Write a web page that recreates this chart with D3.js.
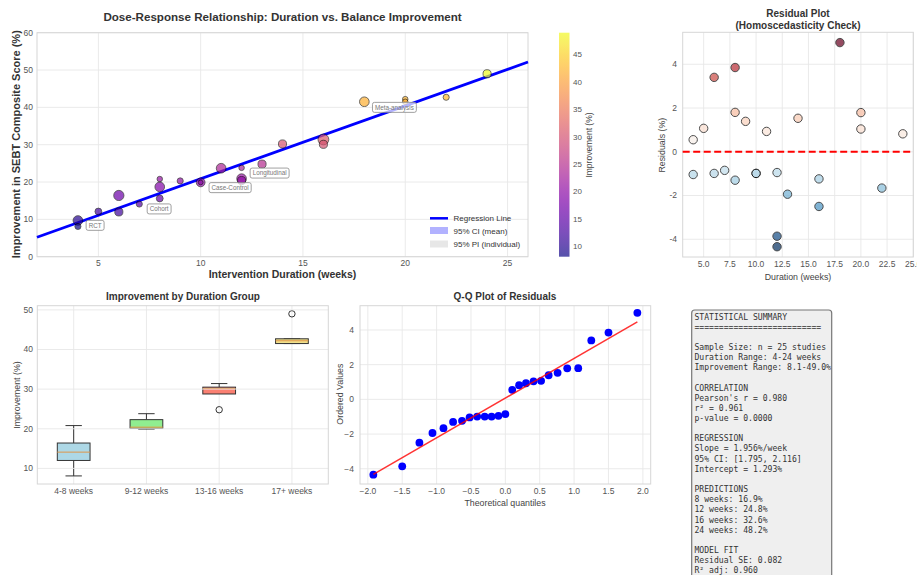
<!DOCTYPE html>
<html>
<head>
<meta charset="utf-8">
<script src="https://cdn.jsdelivr.net/npm/d3@7"></script>
<style>
  body { margin: 0; background: #fff; }
  text { font-family: "Liberation Sans", Arial, sans-serif; }
</style>
</head>
<body>
<svg id="chart" width="917" height="575"></svg>
<script>
// study data
const durations = [4, 4, 5, 6, 6, 7, 8, 8, 8, 9, 10, 10, 11, 12, 12, 12, 13, 14, 16, 16, 18, 20, 20, 22, 24];
const improvements = [9.7, 8.1, 12.1, 16.4, 12.0, 14.1, 20.8, 18.7, 15.6, 20.3, 19.9, 19.9, 23.7, 23.8, 20.9, 20.4, 24.8, 30.2, 31.4, 30.1, 41.5, 42.2, 41.5, 42.7, 49.0];
const sampleSizes = [80, 32, 40, 90, 57, 32, 26, 80, 40, 32, 66, 19, 80, 26, 80, 57, 57, 57, 100, 57, 80, 26, 26, 32, 57];
const residuals = [0.55, -1.04, 1.07, 3.40, -0.99, -0.85, 3.85, 1.80, -1.30, 1.39, -0.99, -0.99, 0.93, -0.95, -3.86, -4.34, -1.94, 1.53, -1.24, -2.50, 4.99, 1.79, 1.04, -1.66, 0.82];

const slope = 1.956;
const intercept = 1.293;

const studyLabels = ["RCT", "Cohort", "Case-Control", "Longitudinal", "Meta-analysis"];
const studyLabelX = [4.84, 7.97, 11.44, 13.37, 19.47];
const studyLabelY = [8.4, 12.8, 18.5, 22.4, 40.0];

const groupNames = ["4-8 weeks", "9-12 weeks", "13-16 weeks", "17+ weeks"];
const groupColors = ["#add8e6", "#90ee90", "#fa8072", "#f0e08c"];

const theoreticalQ = [-1.92, -1.50, -1.25, -1.06, -0.90, -0.76, -0.63, -0.52, -0.41, -0.30, -0.20, -0.10, 0.00,
  0.10, 0.20, 0.30, 0.41, 0.52, 0.63, 0.76, 0.90, 1.06, 1.25, 1.50, 1.92];
const qqSlope = 2.29;
const qqIntercept = 0.07;

const statsLines = [
  "STATISTICAL SUMMARY",
  "==========================",
  "",
  "Sample Size: n = 25 studies",
  "Duration Range: 4-24 weeks",
  "Improvement Range: 8.1-49.0%",
  "",
  "CORRELATION",
  "Pearson's r = 0.980",
  "r\u00b2 = 0.961",
  "p-value = 0.0000",
  "",
  "REGRESSION",
  "Slope = 1.956%/week",
  "95% CI: [1.795, 2.116]",
  "Intercept = 1.293%",
  "",
  "PREDICTIONS",
  "8 weeks: 16.9%",
  "12 weeks: 24.8%",
  "16 weeks: 32.6%",
  "24 weeks: 48.2%",
  "",
  "MODEL FIT",
  "Residual SE: 0.082",
  "R\u00b2 adj: 0.960",
];

const svg = d3.select("#chart");
const studies = durations.map((d, i) => ({
  d, v: improvements[i], n: sampleSizes[i], r: residuals[i],
}));

function txt(g, x, y, s, o = {}) {
  const t = g.append("text")
    .attr("x", x).attr("y", y)
    .attr("dy", "0.35em")
    .attr("font-size", o.size || 8.5)
    .attr("fill", o.color || "#555")
    .attr("text-anchor", o.anchor || "middle")
    .text(s);
  if (o.bold) t.attr("font-weight", "bold");
  if (o.rotate) t.attr("transform", `rotate(-90,${x},${y})`);
  return t;
}

// grid + frame + tick labels for one panel
function panel(x, y, xTicks, yTicks, fmtX, fmtY, yLabX, xLabOff = 7.5) {
  const g = svg.append("g");
  const [x0, x1] = x.range();
  const [y0, y1] = y.range();
  g.selectAll(".gx").data(xTicks).join("line")
    .attr("x1", (d) => x(d)).attr("x2", (d) => x(d))
    .attr("y1", y0).attr("y2", y1)
    .attr("stroke", "#e8e8e8").attr("stroke-width", 0.9);
  g.selectAll(".gy").data(yTicks).join("line")
    .attr("x1", x0).attr("x2", x1)
    .attr("y1", (d) => y(d)).attr("y2", (d) => y(d))
    .attr("stroke", "#e8e8e8").attr("stroke-width", 0.9);
  g.append("rect")
    .attr("x", x0).attr("y", y1)
    .attr("width", x1 - x0).attr("height", y0 - y1)
    .attr("fill", "none").attr("stroke", "#d6d6d6").attr("stroke-width", 1);
  xTicks.forEach((t) => txt(g, x(t), y0 + xLabOff, fmtX(t)));
  yTicks.forEach((t) => txt(g, yLabX, y(t), fmtY(t), { anchor: "end" }));
  return g;
}

// ---------- main scatter ----------
const xMain = d3.scaleLinear().domain([2, 26]).range([37, 528]);
const yMain = d3.scaleLinear().domain([0, 60]).range([256.7, 32.7]);
const cMain = d3.scaleSequential(d3.interpolatePlasma).domain([8.1, 49.0]);
const rMain = d3.scaleSqrt().domain([0, 100]).range([0, 5.4]);

const gMain = panel(xMain, yMain, [5, 10, 15, 20, 25], d3.range(0, 61, 10), String, String, 33, 6.5);

gMain.append("line")
  .attr("x1", xMain(2)).attr("y1", yMain(intercept + slope * 2))
  .attr("x2", xMain(26)).attr("y2", yMain(intercept + slope * 26))
  .attr("stroke", "#0000ff").attr("stroke-width", 2.8);

gMain.selectAll("circle.pt").data(studies).join("circle")
  .attr("cx", (s) => xMain(s.d)).attr("cy", (s) => yMain(s.v))
  .attr("r", (s) => rMain(s.n))
  .attr("fill", (s) => cMain(s.v))
  .attr("stroke", "#000").attr("stroke-width", 0.8)
  .attr("opacity", 0.7);

studyLabels.forEach((lab, i) => {
  const cx = xMain(studyLabelX[i]);
  const cy = yMain(studyLabelY[i]);
  const t = txt(gMain, cx, cy, lab, { size: 6.3, color: "#777" });
  const w = t.node().getComputedTextLength() + 5;
  gMain.insert("rect", () => t.node())
    .attr("x", cx - w / 2).attr("y", cy - 5)
    .attr("width", w).attr("height", 10)
    .attr("rx", 2)
    .attr("fill", "#fff").attr("fill-opacity", 0.7)
    .attr("stroke", "#888").attr("stroke-width", 0.8);
});

// legend
const lg = gMain.append("g");
lg.append("line").attr("x1", 430).attr("x2", 448).attr("y1", 218.3).attr("y2", 218.3)
  .attr("stroke", "#0000ff").attr("stroke-width", 2.5);
lg.append("rect").attr("x", 430).attr("y", 227).attr("width", 18).attr("height", 7)
  .attr("fill", "#0000ff").attr("opacity", 0.3);
lg.append("rect").attr("x", 430).attr("y", 240.5).attr("width", 18).attr("height", 7)
  .attr("fill", "#b0b0b0").attr("opacity", 0.3);
["Regression Line", "95% CI (mean)", "95% PI (individual)"].forEach((s, i) => {
  txt(lg, 453.5, 218.3 + i * 12.9, s, { size: 8, color: "#333", anchor: "start" });
});

txt(svg, xMain(14), 16.5, "Dose-Response Relationship: Duration vs. Balance Improvement", { size: 11.6, bold: true, color: "#333" });
txt(svg, xMain(14), 274, "Intervention Duration (weeks)", { size: 10.5, bold: true, color: "#333" });
txt(svg, 16, yMain(30) - 0.5, "Improvement in SEBT Composite Score (%)", { size: 11, bold: true, color: "#333", rotate: true });

// colorbar
const cbY = d3.scaleLinear().domain([8.1, 49.0]).range([256.7, 32.7]);
const grad = svg.append("defs").append("linearGradient")
  .attr("id", "plasma").attr("x1", 0).attr("y1", 1).attr("x2", 0).attr("y2", 0);
d3.range(0, 1.0001, 0.05).forEach((t) => {
  grad.append("stop").attr("offset", t).attr("stop-color", d3.interpolatePlasma(t));
});
svg.append("rect").attr("x", 559).attr("y", 32.7).attr("width", 10.5).attr("height", 224)
  .attr("fill", "url(#plasma)").attr("opacity", 0.7);
[10, 15, 20, 25, 30, 35, 40, 45].forEach((t) => txt(svg, 573, cbY(t), t, { anchor: "start", size: 8 }));
txt(svg, 589, 145, "Improvement (%)", { size: 8.5, color: "#444", rotate: true });

// ---------- residual plot ----------
const xRes = d3.scaleLinear().domain([3, 25]).range([682.7, 913.3]);
const yRes = d3.scaleLinear().domain([-4.81, 5.46]).range([257, 32.3]);
const rdbu = d3.scaleSequential((t) => d3.interpolateRdBu(1 - t)).domain(d3.extent(residuals));

const gRes = panel(xRes, yRes, d3.range(5, 25.1, 2.5), [-4, -2, 0, 2, 4], d3.format(".1f"), String, 677);
gRes.append("line")
  .attr("x1", xRes(3)).attr("x2", xRes(25))
  .attr("y1", yRes(0)).attr("y2", yRes(0))
  .attr("stroke", "#ff0000").attr("stroke-width", 2)
  .attr("stroke-dasharray", "7,3.5");
gRes.selectAll("circle").data(studies).join("circle")
  .attr("cx", (s) => xRes(s.d)).attr("cy", (s) => yRes(s.r))
  .attr("r", 4.2)
  .attr("fill", (s) => rdbu(s.r))
  .attr("stroke", "#000").attr("stroke-width", 1)
  .attr("opacity", 0.7);
txt(svg, 798, 13.5, "Residual Plot", { size: 10, bold: true, color: "#333" });
txt(svg, 798, 25.5, "(Homoscedasticity Check)", { size: 10, bold: true, color: "#333" });
txt(svg, 798, 276.5, "Duration (weeks)", { size: 8.8, color: "#444" });
txt(svg, 662, yRes(0.3), "Residuals (%)", { size: 8.8, color: "#444", rotate: true });

// ---------- box plot ----------
const xBox = d3.scaleLinear().domain([0.5, 4.5]).range([37.3, 328.3]);
const yBox = d3.scaleLinear().domain([6.06, 51.05]).range([484, 305.7]);
const groupOf = (d) => (d <= 8 ? 0 : d <= 12 ? 1 : d <= 16 ? 2 : 3);

const gBox = svg.append("g");
panel(xBox, yBox, [], [10, 20, 30, 40, 50], String, String, 33);
[1, 2, 3, 4].forEach((p) => {
  gBox.append("line").attr("x1", xBox(p)).attr("x2", xBox(p)).attr("y1", 305.7).attr("y2", 484)
    .attr("stroke", "#e8e8e8").attr("stroke-width", 0.9);
});
groupNames.forEach((name, gi) => {
  const vals = studies.filter((s) => groupOf(s.d) === gi).map((s) => s.v).sort(d3.ascending);
  const q1 = d3.quantile(vals, 0.25);
  const med = d3.quantile(vals, 0.5);
  const q3 = d3.quantile(vals, 0.75);
  const iqr = q3 - q1;
  const inside = vals.filter((v) => v >= q1 - 1.5 * iqr && v <= q3 + 1.5 * iqr);
  const outliers = vals.filter((v) => v < q1 - 1.5 * iqr || v > q3 + 1.5 * iqr);
  const lo = d3.min(inside);
  const hi = d3.max(inside);
  const cx = xBox(gi + 1);
  const bw = xBox(0.45) - xBox(0);
  const g = gBox.append("g");
  g.append("line").attr("x1", cx).attr("x2", cx).attr("y1", yBox(lo)).attr("y2", yBox(q1))
    .attr("stroke", "#333").attr("stroke-width", 1);
  g.append("line").attr("x1", cx).attr("x2", cx).attr("y1", yBox(q3)).attr("y2", yBox(hi))
    .attr("stroke", "#333").attr("stroke-width", 1);
  [lo, hi].forEach((v) => {
    g.append("line").attr("x1", cx - bw / 4).attr("x2", cx + bw / 4).attr("y1", yBox(v)).attr("y2", yBox(v))
      .attr("stroke", "#333").attr("stroke-width", 1);
  });
  g.append("rect").attr("x", cx - bw / 2).attr("y", yBox(q3))
    .attr("width", bw).attr("height", Math.max(yBox(q1) - yBox(q3), 0.5))
    .attr("fill", groupColors[gi]).attr("stroke", "#333").attr("stroke-width", 1);
  g.append("line").attr("x1", cx - bw / 2).attr("x2", cx + bw / 2).attr("y1", yBox(med)).attr("y2", yBox(med))
    .attr("stroke", "#e0964a").attr("stroke-width", 1);
  outliers.forEach((v) => {
    g.append("circle").attr("cx", cx).attr("cy", yBox(v)).attr("r", 3.2)
      .attr("fill", "none").attr("stroke", "#333").attr("stroke-width", 1);
  });
  txt(gBox, cx, 491, name);
});
txt(svg, 183, 296.5, "Improvement by Duration Group", { size: 10, bold: true, color: "#333" });
txt(svg, 16.5, yBox(28.5), "Improvement (%)", { size: 8.8, color: "#444", rotate: true });

// ---------- Q-Q plot ----------
const xQQ = d3.scaleLinear().domain([-2.114, 2.114]).range([360, 650.7]);
const yQQ = d3.scaleLinear().domain([-4.88, 5.40]).range([484, 305.7]);
const sortedRes = residuals.slice().sort(d3.ascending);
const gQQ = panel(xQQ, yQQ, d3.range(-2, 2.01, 0.5), [-4, -2, 0, 2, 4], d3.format(".1f"), (t) => (t < 0 ? "\u2212" + Math.abs(t) : t), 354);
gQQ.selectAll("circle").data(theoreticalQ).join("circle")
  .attr("cx", (q) => xQQ(q)).attr("cy", (q, i) => yQQ(sortedRes[i]))
  .attr("r", 3.9).attr("fill", "#0000ff");
gQQ.append("line")
  .attr("x1", xQQ(theoreticalQ[0])).attr("y1", yQQ(qqIntercept + qqSlope * theoreticalQ[0]))
  .attr("x2", xQQ(theoreticalQ[24])).attr("y2", yQQ(qqIntercept + qqSlope * theoreticalQ[24]))
  .attr("stroke", "#ff0000").attr("stroke-opacity", 0.8).attr("stroke-width", 1.5);
txt(svg, 505, 296.5, "Q-Q Plot of Residuals", { size: 10, bold: true, color: "#333" });
txt(svg, 505, 503, "Theoretical quantiles", { size: 8.8, color: "#444" });
txt(svg, 340, yQQ(0.3), "Ordered Values", { size: 8.8, color: "#444", rotate: true });

// ---------- stats box ----------
const gStats = svg.append("g");
gStats.append("rect").attr("x", 691.7).attr("y", 310).attr("width", 140).attr("height", 300)
  .attr("rx", 3).attr("fill", "#efefef").attr("stroke", "#777").attr("stroke-width", 1.2);
statsLines.forEach((line, i) => {
  gStats.append("text")
    .attr("x", 694.5).attr("y", 316.7 + i * 10.15)
    .attr("dy", "0.35em")
    .style("font-family", "'DejaVu Sans Mono', monospace")
    .attr("font-size", 8.1)
    .attr("fill", "#333")
    .attr("xml:space", "preserve")
    .text(line);
});
</script>
</body>
</html>
